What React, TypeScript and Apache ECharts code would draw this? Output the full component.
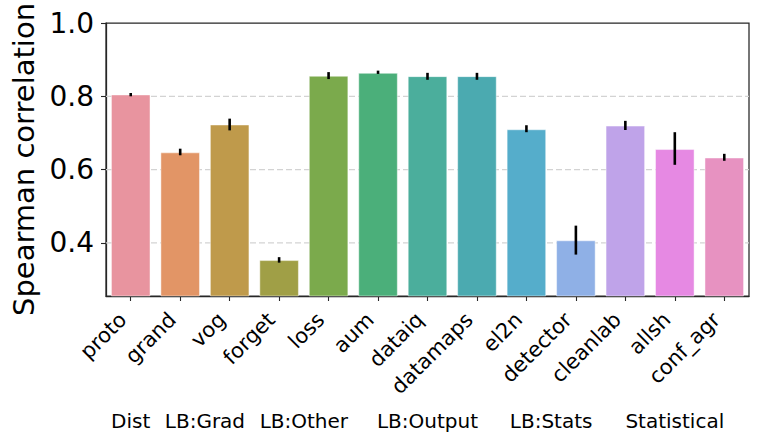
import React, { useEffect, useRef } from "react";
import * as echarts from "echarts";

const categories = ["proto", "grand", "vog", "forget", "loss", "aum", "dataiq", "datamaps", "el2n", "detector", "cleanlab", "allsh", "conf_agr"];
const means = [0.805, 0.647, 0.723, 0.353, 0.856, 0.864, 0.855, 0.855, 0.71, 0.407, 0.72, 0.656, 0.633];
const errLow = [0.8, 0.639, 0.707, 0.346, 0.847, 0.861, 0.845, 0.845, 0.702, 0.368, 0.708, 0.613, 0.624];
const errHigh = [0.809, 0.657, 0.739, 0.361, 0.866, 0.87, 0.864, 0.864, 0.721, 0.447, 0.733, 0.702, 0.643];
const barColors = ["#E8949F", "#E29566", "#BF9A4B", "#A09F46", "#7BAA4C", "#4BAF7A", "#4BAE9C", "#4BAAB0", "#55ADCB", "#8FB0E6", "#BFA3E9", "#E689E3", "#E792C1"];
const yTicks = [0.4, 0.6, 0.8, 1.0];
const gridValues = [0.4, 0.6, 0.8];
const groupNames = ["Dist", "LB:Grad", "LB:Other", "LB:Output", "LB:Stats", "Statistical"];
const groupStart = [0, 1, 3, 5, 8, 10];
const groupEnd = [0, 2, 4, 7, 9, 12];
const yMin = 0.255;
const yMax = 1.0;

const FONT = "DejaVu Sans";
const INK = "#262626";

export default function App() {
  const ref = useRef<HTMLDivElement>(null);
  useEffect(() => {
    if (!ref.current) return;
    const chart = echarts.init(ref.current, null, { renderer: "svg" });
    const option: any = {
      animation: false,
      backgroundColor: "#ffffff",
      grid: {
        left: 106,
        right: 12,
        top: 23,
        bottom: 150,
        show: true,
        borderColor: INK,
        borderWidth: 1.25,
        backgroundColor: "transparent",
        outerBoundsMode: "none",
      },
      xAxis: [
        {
          type: "category",
          data: categories,
          axisLine: { show: true, lineStyle: { color: INK, width: 1.25 } },
          axisTick: { show: true, alignWithLabel: true, length: 5, lineStyle: { color: INK, width: 1.1 } },
          axisLabel: {
            interval: 0,
            rotate: 45,
            fontSize: 21,
            lineHeight: 22,
            margin: 28,
            align: "right",
            verticalAlign: "bottom",
            color: "#000",
            fontFamily: FONT,
          },
          splitLine: { show: false },
        },
      ],
      yAxis: [
        {
          type: "value",
          min: yMin,
          max: yMax,
          name: "Spearman correlation",
          nameLocation: "middle",
          nameGap: 58,
          nameTextStyle: { fontSize: 29, color: "#000", fontFamily: FONT },
          axisLine: { show: true, lineStyle: { color: INK, width: 1.25 } },
          axisTick: { show: true, length: 5, customValues: yTicks, lineStyle: { color: INK, width: 1.1 } },
          axisLabel: {
            customValues: yTicks,
            fontSize: 28,
            margin: 12,
            color: "#000",
            fontFamily: FONT,
            formatter: (v: number) => v.toFixed(1),
          },
          splitLine: { show: false },
        },
      ],
      series: [
        {
          type: "custom",
          z: 1,
          silent: true,
          data: gridValues.map((v) => [0, v]),
          renderItem: (params: any, api: any) => {
            const cs = params.coordSys;
            const y = api.coord([0, api.value(1)])[1];
            return {
              type: "line",
              shape: { x1: cs.x, y1: y, x2: cs.x + cs.width, y2: y },
              style: { stroke: "#d3d3d3", lineWidth: 1.2, lineDash: [6, 3] },
            };
          },
        },
        {
          type: "bar",
          z: 2,
          barCategoryGap: "20%",
          data: means.map((v, i) => ({
            value: v,
            itemStyle: { color: barColors[i], borderColor: "rgba(255,255,255,0.45)", borderWidth: 1 },
          })),
        },
        {
          type: "custom",
          z: 3,
          silent: true,
          data: categories.map((_, i) => [i, errLow[i], errHigh[i]]),
          encode: { x: 0, y: [1, 2] },
          renderItem: (params: any, api: any) => {
            const p1 = api.coord([api.value(0), api.value(1)]);
            const p2 = api.coord([api.value(0), api.value(2)]);
            return {
              type: "line",
              shape: { x1: p1[0], y1: p1[1], x2: p2[0], y2: p2[1] },
              style: { stroke: "#000", lineWidth: 2.6 },
            };
          },
        },
      ],
    };
    chart.setOption(option);
    const baseY = chart.convertToPixel({ yAxisIndex: 0 }, yMin) as number;
    const graphics = groupNames.map((n, i) => {
      const xa = chart.convertToPixel({ xAxisIndex: 0 }, categories[groupStart[i]]) as number;
      const xb = chart.convertToPixel({ xAxisIndex: 0 }, categories[groupEnd[i]]) as number;
      return {
        type: "text",
        x: (xa + xb) / 2,
        y: baseY + 125,
        style: {
          text: n,
          fontSize: 20,
          fontFamily: FONT,
          fill: "#000",
          align: "center",
          verticalAlign: "middle",
        },
        silent: true,
      };
    });
    chart.setOption({ graphic: graphics });
    return () => chart.dispose();
  }, []);
  return <div ref={ref} style={{ position: "fixed", left: 0, top: 0, width: 761, height: 446 }} />;
}
